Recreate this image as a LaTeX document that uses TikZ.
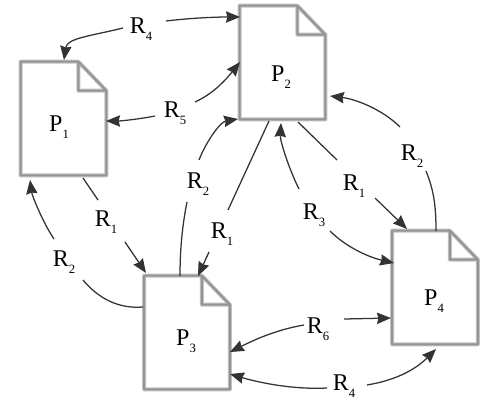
\documentclass[tikz,border=0pt]{standalone}
\usepackage{fontspec}
\setmainfont{Liberation Serif}
\usetikzlibrary{arrows.meta}
\newcommand\lbl[2]{#1\raisebox{-0.3em}{\fontsize{9.5}{9.5}\selectfont #2}}
\newcommand\docoutline[1]{%
  \foreach \lw/\cl in {3pt/docsoft,1.5pt/docline}{
  \draw[line width=\lw,draw=\cl,line join=round]
    ([xshift=-21pt]#1.north east) -- (#1.north west) -- (#1.south west) -- (#1.south east)
    -- ([yshift=-21.75pt]#1.north east) -- ([xshift=-21pt]#1.north east)
    -- ([xshift=-21pt,yshift=-21.75pt]#1.north east) -- ([yshift=-21.75pt]#1.north east);}}
\definecolor{docsoft}{gray}{0.76}
\definecolor{docline}{gray}{0.58}
\definecolor{wirecol}{gray}{0.2}
\tikzset{
  x=0.75pt,y=-0.75pt,
  docbox/.style={minimum width=64pt,minimum height=84.75pt,inner sep=0pt},
  tag/.style={anchor=base,inner sep=0pt,font=\fontsize{18}{20}\selectfont,text=black},
  wire/.style={line width=0.95pt,draw=wirecol},
  head/.style={wire,-{Stealth[length=10.5pt,width=8.5pt,inset=1pt]}}
}
\begin{document}
\begin{tikzpicture}
\useasboundingbox (0,0) rectangle (496,404);
\node[docbox] (P1) at (63.5,118.5) {};
\node[docbox] (P2) at (282.5,62.5) {};
\node[docbox] (P3) at (187,332.5) {};
\node[docbox] (P4) at (435,287.5) {};
\docoutline{P1}\docoutline{P2}\docoutline{P3}\docoutline{P4}
\node[tag] (T1) at (59,131) {\lbl{P}{1}};
\node[tag] (T2) at (281,81) {\lbl{P}{2}};
\node[tag] (T3) at (186,345) {\lbl{P}{3}};
\node[tag] (T4) at (434,305) {\lbl{P}{4}};
\node[tag] (Rfa) at (141,33) {\lbl{R}{4}};
\node[tag] (Rfv) at (175,117) {\lbl{R}{5}};
\node[tag] (Rtm) at (198,188) {\lbl{R}{2}};
\node[tag] (Rom) at (222,238) {\lbl{R}{1}};
\node[tag] (Rol) at (106,226) {\lbl{R}{1}};
\node[tag] (Rtl) at (64,266) {\lbl{R}{2}};
\node[tag] (Ror) at (354,190) {\lbl{R}{1}};
\node[tag] (Rtr) at (412,160) {\lbl{R}{2}};
\node[tag] (Rth) at (314,219) {\lbl{R}{3}};
\node[tag] (Rsx) at (318,333) {\lbl{R}{6}};
\node[tag] (Rfb) at (344,390) {\lbl{R}{4}};
% R4 top
\draw[head] ([shift={(-18,-5)}]Rfa.base) .. controls +(-32,8) and +(3,-22) .. ([shift={(0.5,-58.5)}]P1.center);
\draw[head] ([shift={(25,-12)}]Rfa.base) .. controls +(25,-3) and +(-25,0) .. ([shift={(-42.5,-45.5)}]P2.center);
% R5
\draw[head] ([shift={(-20,-1)}]Rfv.base) .. controls +(-15,3) and +(15,0) .. ([shift={(42.5,2.5)}]P1.center);
\draw[head] ([shift={(20,-15)}]Rfv.base) .. controls +(20,-9) and +(-12,15) .. ([shift={(-42.5,-0.5)}]P2.center);
% R2 middle
\draw[head] ([shift={(1,-28)}]Rtm.base) .. controls +(7,-18) and +(-18,3) .. ([shift={(-44.5,56.5)}]P2.center);
\draw[wire] ([shift={(-11,14)}]Rtm.base) .. controls +(-5,25) and +(0,-25) .. ([shift={(-7,-56.5)}]P3.center);
% R1 middle
\draw[wire] ([shift={(-13.5,58.5)}]P2.center) -- ([shift={(6,-28)}]Rom.base);
\draw[head] ([shift={(-13,14)}]Rom.base) -- ([shift={(11,-56.5)}]P3.center);
% R1 left
\draw[wire] ([shift={(19.5,59.5)}]P1.center) -- ([shift={(-8,-26)}]Rol.base);
\draw[head] ([shift={(19,16)}]Rol.base) -- ([shift={(-41,-59.5)}]P3.center);
% R2 left
\draw[head] ([shift={(-10,-27)}]Rtl.base) .. controls +(-12,-18) and +(2,15) .. ([shift={(-33.5,61.5)}]P1.center);
\draw[wire] ([shift={(19,14)}]Rtl.base) .. controls +(15,18) and +(-25,2) .. ([shift={(-44,-25.5)}]P3.center);
% R1 right
\draw[wire] ([shift={(15.5,59.5)}]P2.center) -- ([shift={(-17,-30)}]Ror.base);
\draw[head] ([shift={(21,8)}]Ror.base) -- ([shift={(-28,-58.5)}]P4.center);
% R2 right
\draw[head] ([shift={(-12,-33)}]Rtr.base) .. controls +(-18,-18) and +(25,3) .. ([shift={(47.5,33.5)}]P2.center);
\draw[wire] ([shift={(14,11)}]Rtr.base) .. controls +(8,20) and +(0,-25) .. ([shift={(1,-56.5)}]P4.center);
% R3
\draw[head] ([shift={(-15,-30)}]Rth.base) .. controls +(-10,-20) and +(-1,18) .. ([shift={(-1.5,60.5)}]P2.center);
\draw[head] ([shift={(16,12)}]Rth.base) .. controls +(18,18) and +(-22,-5) .. ([shift={(-41,-24.5)}]P4.center);
% R6
\draw[head] ([shift={(26,-14)}]Rsx.base) -- ([shift={(-44,30.5)}]P4.center);
\draw[head] ([shift={(-14,-8)}]Rsx.base) .. controls +(-30,5) and +(20,-10) .. ([shift={(43,19.5)}]P3.center);
% R4 bottom
\draw[head] ([shift={(23,-5)}]Rfb.base) .. controls +(30,-5) and +(-20,20) .. ([shift={(1,61.5)}]P4.center);
\draw[head] ([shift={(-17,-2)}]Rfb.base) .. controls +(-40,2) and +(20,6) .. ([shift={(43,41.5)}]P3.center);
\end{tikzpicture}
\end{document}
